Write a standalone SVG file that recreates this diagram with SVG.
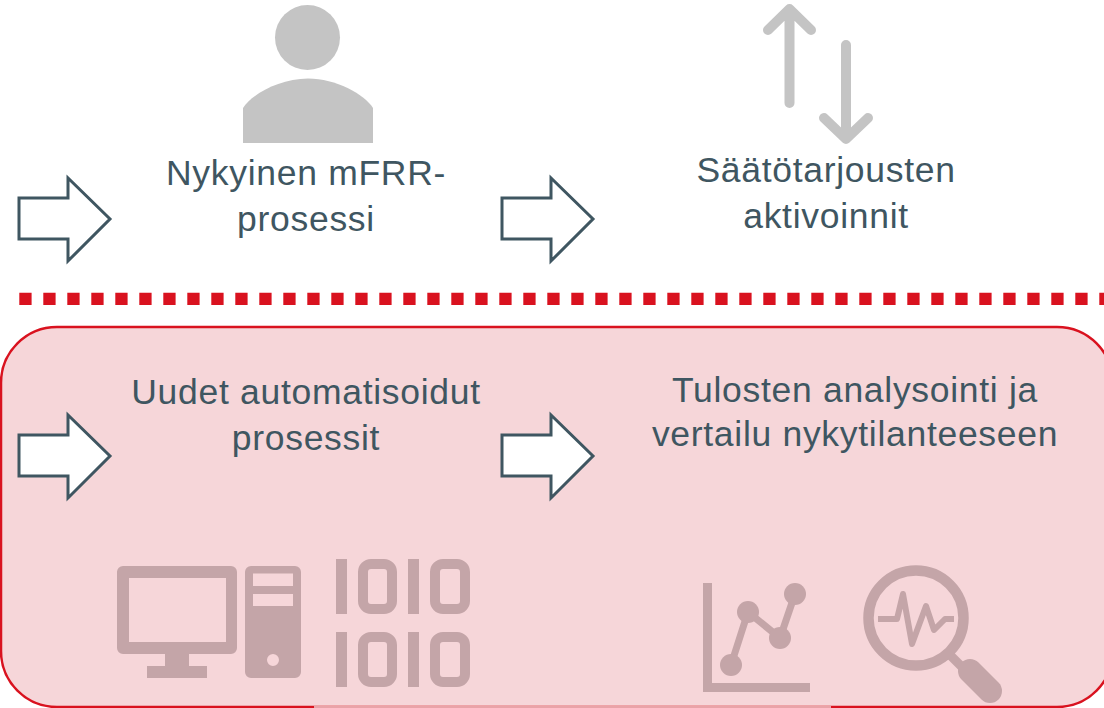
<svg xmlns="http://www.w3.org/2000/svg" width="1104" height="708" viewBox="0 0 1104 708">
<style>
text{font-family:"Liberation Sans",Arial,sans-serif;font-size:35.500px;letter-spacing:.7px;fill:#3f5661;text-anchor:middle}
.arrow{fill:#fff;stroke:#3f5661;stroke-width:3;stroke-linejoin:miter}
.grey{fill:#c4c4c4}
.gl{fill:none;stroke:#c4c4c4;stroke-width:10;stroke-linecap:round;stroke-linejoin:round}
.ic{fill:#c4a5a8}
.il{fill:none;stroke:#c4a5a8}
</style>
<rect width="1104" height="708" fill="#fff"/>
<g id="panel">
<rect x="1" y="327" width="1112" height="380" rx="56" ry="56" fill="#f6d6d9" stroke="#d9121f" stroke-width="2.500"/>
<path d="M314 707H831" stroke="#e9a3a8" stroke-width="2.500" fill="none"/>
</g>
<g id="divider"><path d="M19.300 298.800H1104" fill="none" stroke="#d9121f" stroke-width="12.300" stroke-dasharray="12.300 11.700"/></g>
<g id="connectors">
<path class="arrow" d="M19 198H68V178L110 219L68 261V239H19Z"/>
<path class="arrow" d="M502 198H551V178L593 219L551 261V239H502Z"/>
<path class="arrow" d="M19 435H68V415L110 456L68 498V476H19Z"/>
<path class="arrow" d="M502 435H551V415L593 456L551 498V476H502Z"/>
</g>
<g id="node-current">
<circle class="grey" cx="307.500" cy="37.500" r="32.500"/>
<path class="grey" d="M243 143V108C252 94 280 78.500 308 78.500C336 78.500 364 94 373 108V143Z"/>
<text x="306" y="185">Nykyinen mFRR-</text>
<text x="306" y="231">prosessi</text>
</g>
<g id="node-activations">
<path class="gl" d="M789.500 103V10M768 30L789.500 9L811 30"/>
<path class="gl" d="M846 45V137M824 118L846 139L868 118"/>
<text x="826" y="182">Säätötarjousten</text>
<text x="826" y="228">aktivoinnit</text>
</g>
<g id="node-automated">
<text x="306" y="404">Uudet automatisoidut</text>
<text x="306" y="450">prosessit</text>
<path class="ic" fill-rule="evenodd" d="M123 566H231A6 6 0 0 1 237 572V648A6 6 0 0 1 231 654H189V666H207V678H147V666H165V654H123A6 6 0 0 1 117 648V572A6 6 0 0 1 123 566ZM129 578V642H226V578Z"/>
<path class="ic" fill-rule="evenodd" d="M251 566H295A6 6 0 0 1 301 572V672A6 6 0 0 1 295 678H251A6 6 0 0 1 245 672V572A6 6 0 0 1 251 566ZM253 573.500V586H293V573.500ZM253 594V606H293V594ZM273 654A6 6 0 1 0 273 666A6 6 0 1 0 273 654Z"/>
<g id="binary-1">
<rect class="ic" x="336" y="559" width="11" height="55"/>
<rect class="il" x="363" y="564" width="29" height="45" rx="8" stroke-width="10"/>
<rect class="ic" x="408" y="559" width="11" height="55"/>
<rect class="il" x="435" y="564" width="30" height="45" rx="8" stroke-width="10"/>
</g>
<g id="binary-2">
<rect class="ic" x="336" y="632" width="11" height="55"/>
<rect class="il" x="363" y="637" width="29" height="45" rx="8" stroke-width="10"/>
<rect class="ic" x="408" y="632" width="11" height="55"/>
<rect class="il" x="435" y="637" width="30" height="45" rx="8" stroke-width="10"/>
</g>
</g>
<g id="node-analysis">
<text x="855" y="402">Tulosten analysointi ja</text>
<text x="855" y="446">vertailu nykytilanteeseen</text>
<path class="ic" d="M703 583H712V683H810V692H703Z"/>
<path class="il" stroke-width="7" d="M731 665L748 612L780 638L795 594"/>
<circle class="ic" cx="731" cy="665" r="11"/>
<circle class="ic" cx="748" cy="612" r="11"/>
<circle class="ic" cx="780" cy="638" r="11"/>
<circle class="ic" cx="795" cy="594" r="11"/>
<circle class="il" cx="916" cy="618" r="47.500" stroke-width="10.500"/>
<path class="il" stroke-width="9" d="M951 656L965 670"/>
<path class="il" stroke-width="24" stroke-linecap="round" d="M970 671L990 691"/>
<path class="il" stroke-width="6" stroke-linejoin="round" d="M878 619H897L903 594L912 644L926 606L934 630L945 619H954"/>
</g>
</svg>
